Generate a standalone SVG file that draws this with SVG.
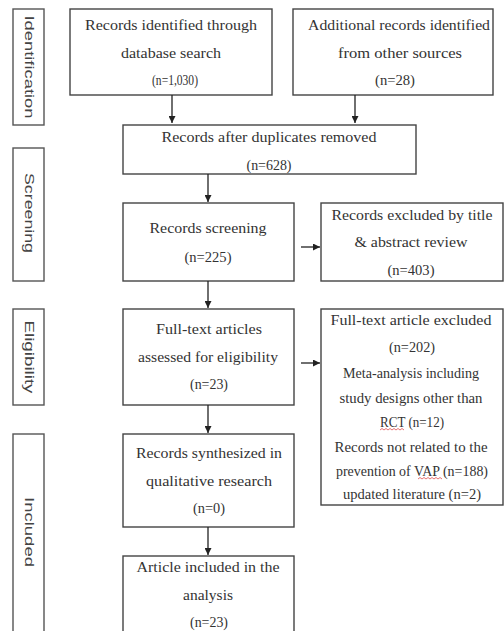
<svg xmlns="http://www.w3.org/2000/svg" width="504" height="631" viewBox="0 0 504 631">
<defs>
<style>
.box{fill:#fff;stroke:#444;stroke-width:1.4}
.side{fill:#fff;stroke:#555;stroke-width:1.4}
.t{font-family:"Liberation Serif","DejaVu Serif",serif;font-size:14px;fill:#333;text-anchor:middle}
.s{font-family:"Liberation Sans","DejaVu Sans",sans-serif;font-size:13px;fill:#444;text-anchor:middle}
.c{stroke:#222;stroke-width:1.3;fill:none}
.sq{stroke:#e05050;stroke-width:0.8;fill:none}
</style>
<marker id="ah" viewBox="0 0 10 10" refX="10" refY="5" markerWidth="7" markerHeight="7" markerUnits="userSpaceOnUse" orient="auto">
<path d="M0,0 L10,5 L0,10 z" fill="#222"/>
</marker>
</defs>
<rect width="504" height="631" fill="#fff"/>

<g id="side-identification"><rect class="side" x="13" y="9" width="31" height="116"/><text class="s" transform="translate(29,67) rotate(90)" y="4.5" textLength="103" lengthAdjust="spacingAndGlyphs">Identification</text></g>
<g id="side-screening"><rect class="side" x="13" y="148" width="31" height="133"/><text class="s" transform="translate(29,213) rotate(90)" y="4.5" textLength="80" lengthAdjust="spacingAndGlyphs">Screening</text></g>
<g id="side-eligibility"><rect class="side" x="13" y="309" width="31" height="96"/><text class="s" transform="translate(29,357) rotate(90)" y="4.5" textLength="73" lengthAdjust="spacingAndGlyphs">Eligibility</text></g>
<g id="side-included"><rect class="side" x="13" y="434" width="31" height="210"/><text class="s" transform="translate(29,532) rotate(90)" y="4.5" textLength="70" lengthAdjust="spacingAndGlyphs">Included</text></g>

<g id="n-database">
<rect class="box" x="70" y="9" width="202" height="86"/>
<text class="t" x="171" y="30" textLength="172" lengthAdjust="spacingAndGlyphs">Records identified through</text>
<text class="t" x="171" y="58" textLength="100" lengthAdjust="spacingAndGlyphs">database search</text>
<text class="t" x="175" y="85" textLength="46" lengthAdjust="spacingAndGlyphs">(n=1,030)</text>
</g>
<g id="n-other">
<rect class="box" x="293" y="9" width="200" height="86"/>
<text class="t" x="399" y="30" textLength="182" lengthAdjust="spacingAndGlyphs">Additional records identified</text>
<text class="t" x="400" y="58" textLength="124" lengthAdjust="spacingAndGlyphs">from other sources</text>
<text class="t" x="395" y="85" textLength="40" lengthAdjust="spacingAndGlyphs">(n=28)</text>
</g>
<g id="n-duplicates">
<rect class="box" x="123" y="125" width="293" height="49"/>
<text class="t" x="269" y="142" textLength="215" lengthAdjust="spacingAndGlyphs">Records after duplicates removed</text>
<text class="t" x="269" y="170" textLength="45" lengthAdjust="spacingAndGlyphs">(n=628)</text>
</g>
<g id="n-screening">
<rect class="box" x="123" y="203" width="171" height="78"/>
<text class="t" x="208" y="233" textLength="117" lengthAdjust="spacingAndGlyphs">Records screening</text>
<text class="t" x="208" y="262" textLength="47" lengthAdjust="spacingAndGlyphs">(n=225)</text>
</g>
<g id="n-excluded-title">
<rect class="box" x="321" y="203" width="182" height="78"/>
<text class="t" x="412" y="220" textLength="161" lengthAdjust="spacingAndGlyphs">Records excluded by title</text>
<text class="t" x="411" y="247" textLength="113" lengthAdjust="spacingAndGlyphs">&amp; abstract review</text>
<text class="t" x="411" y="275" textLength="47" lengthAdjust="spacingAndGlyphs">(n=403)</text>
</g>
<g id="n-fulltext">
<rect class="box" x="123" y="309" width="171" height="96"/>
<text class="t" x="209" y="334" textLength="106" lengthAdjust="spacingAndGlyphs">Full-text articles</text>
<text class="t" x="208" y="362" textLength="140" lengthAdjust="spacingAndGlyphs">assessed for eligibility</text>
<text class="t" x="209" y="389" textLength="38" lengthAdjust="spacingAndGlyphs">(n=23)</text>
</g>
<g id="n-excluded-fulltext">
<rect class="box" x="321" y="309" width="182" height="196"/>
<text class="t" x="411" y="325" textLength="161" lengthAdjust="spacingAndGlyphs">Full-text article excluded</text>
<text class="t" x="412" y="352" textLength="46" lengthAdjust="spacingAndGlyphs">(n=202)</text>
<text class="t" x="411" y="378" textLength="136" lengthAdjust="spacingAndGlyphs">Meta-analysis including</text>
<text class="t" x="411" y="403" textLength="143" lengthAdjust="spacingAndGlyphs">study designs other than</text>
<text class="t" x="412" y="427" textLength="64" lengthAdjust="spacingAndGlyphs">RCT (n=12)</text>
<text class="t" x="411" y="452" textLength="153" lengthAdjust="spacingAndGlyphs">Records not related to the</text>
<text class="t" x="412" y="476" textLength="152" lengthAdjust="spacingAndGlyphs">prevention of VAP (n=188)</text>
<text class="t" x="412" y="499" textLength="138" lengthAdjust="spacingAndGlyphs">updated literature (n=2)</text>
<path class="sq" d="M380,430 l2,-1.5 l2,1.5 l2,-1.5 l2,1.5 l2,-1.5 l2,1.5 l2,-1.5 l2,1.5 l2,-1.5 l2,1.5 l2,-1.5 l2,1.5"/>
<path class="sq" d="M418,479 l2,-1.5 l2,1.5 l2,-1.5 l2,1.5 l2,-1.5 l2,1.5 l2,-1.5 l2,1.5 l2,-1.5 l2,1.5 l2,-1.5 l2,1.5"/>
</g>
<g id="n-synthesized">
<rect class="box" x="123" y="434" width="171" height="93"/>
<text class="t" x="209" y="458" textLength="146" lengthAdjust="spacingAndGlyphs">Records synthesized in</text>
<text class="t" x="209" y="486" textLength="126" lengthAdjust="spacingAndGlyphs">qualitative research</text>
<text class="t" x="209" y="513" textLength="32" lengthAdjust="spacingAndGlyphs">(n=0)</text>
</g>
<g id="n-included">
<rect class="box" x="123" y="556" width="171" height="90"/>
<text class="t" x="208" y="572" textLength="143" lengthAdjust="spacingAndGlyphs">Article included in the</text>
<text class="t" x="208" y="600" textLength="50" lengthAdjust="spacingAndGlyphs">analysis</text>
<text class="t" x="209" y="627" textLength="38" lengthAdjust="spacingAndGlyphs">(n=23)</text>
</g>

<g id="connectors">
<line class="c" x1="172" y1="95" x2="172" y2="123" marker-end="url(#ah)"/>
<line class="c" x1="355" y1="95" x2="355" y2="123" marker-end="url(#ah)"/>
<line class="c" x1="208" y1="174" x2="208" y2="202" marker-end="url(#ah)"/>
<line class="c" x1="301" y1="247" x2="320" y2="247" marker-end="url(#ah)"/>
<line class="c" x1="208" y1="281" x2="208" y2="308" marker-end="url(#ah)"/>
<line class="c" x1="301" y1="363" x2="320" y2="363" marker-end="url(#ah)"/>
<line class="c" x1="208" y1="405" x2="208" y2="433" marker-end="url(#ah)"/>
<line class="c" x1="208" y1="527" x2="208" y2="555" marker-end="url(#ah)"/>
</g>
</svg>
